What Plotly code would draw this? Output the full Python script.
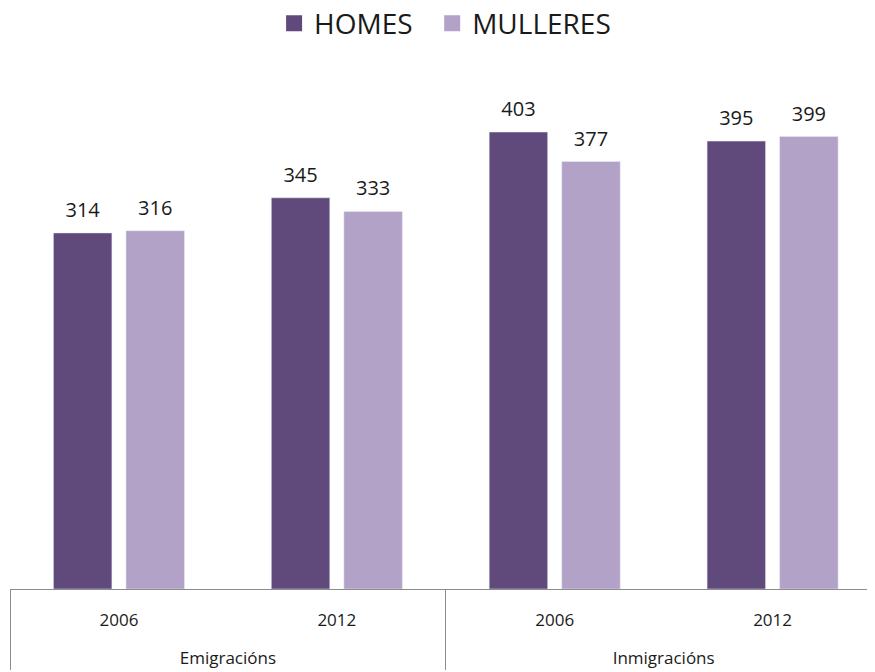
import plotly.graph_objects as go

groups = ["Emigracións", "Emigracións", "Inmigracións", "Inmigracións"]
years = ["2006", "2012", "2006", "2012"]
homes = [314, 345, 403, 395]
mulleres = [316, 333, 377, 399]

dark = "#604A7B"
light = "#B3A2C7"
font = "Open Sans"

# inner labels get a blank second line so the outer row sits lower, as in the reference
year_labels = [y + "<br><span style='font-size:38px'>&nbsp;</span>" for y in years]
# value labels: padded with large blank spaces so they sit a little higher above the bars
pad = "<span style='font-size:46px'>&nbsp;</span>"
label_tpl = pad + "%{y}" + pad

fig = go.Figure()
fig.add_trace(go.Bar(name="HOMES", x=[groups, year_labels], y=homes, marker_color=dark,
                     texttemplate=label_tpl, textposition="outside", cliponaxis=False,
                     constraintext="none", showlegend=False, hoverinfo="y",
                     textfont=dict(size=20, color="#1a1a1a", family=font)))
fig.add_trace(go.Bar(name="MULLERES", x=[groups, year_labels], y=mulleres, marker_color=light,
                     texttemplate=label_tpl, textposition="outside", cliponaxis=False,
                     constraintext="none", showlegend=False, hoverinfo="y",
                     textfont=dict(size=20, color="#1a1a1a", family=font)))
# legend entries with larger square swatches
for name, col in [("HOMES&nbsp;&nbsp;", dark), ("MULLERES", light)]:
    fig.add_trace(go.Scatter(name=name, x=[None], y=[None], mode="markers",
                             marker=dict(symbol="square", size=18, color=col), showlegend=True))

fig.update_layout(
    width=875, height=672,
    margin=dict(l=2, r=8, t=62, b=91),
    paper_bgcolor="white", plot_bgcolor="white",
    barmode="group", bargap=0.334, bargroupgap=0.194,
    font=dict(family=font, color="#1a1a1a"),
    legend=dict(orientation="h", x=0.503, xanchor="center", y=0.977, yanchor="middle",
                yref="container", itemsizing="trace", itemwidth=30,
                font=dict(size=28, family=font)),
    showlegend=True,
)
fig.update_xaxes(range=[-0.5, 3.47], showline=True, linecolor="#8c8c8c", linewidth=1,
                 showdividers=True, dividercolor="#8c8c8c", dividerwidth=1,
                 ticks="", ticklabelstandoff=16, automargin=False,
                 tickfont=dict(size=17, family=font, color="#1a1a1a"))
fig.update_yaxes(range=[0, 457.7], visible=False, showgrid=False, zeroline=False)

fig.write_html("out.html")
